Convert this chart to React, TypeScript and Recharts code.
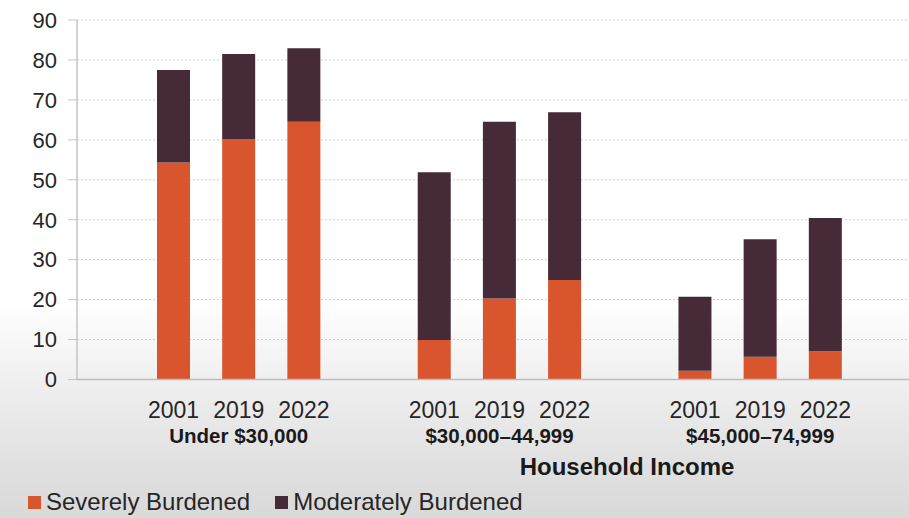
import React from 'react';
import { BarChart, Bar, XAxis, YAxis, CartesianGrid } from 'recharts';

const years = ['2001', '2019', '2022', '', '2001', '2019', '2022', '', '2001', '2019', '2022'];
const groupLabels = ['', 'Under $30,000', '', '', '', '$30,000–44,999', '', '', '', '$45,000–74,999', ''];
const severe = [54.3, 60.2, 64.5, null, 9.9, 20.3, 24.9, null, 2.2, 5.7, 7.1];
const moderate = [23.2, 21.3, 18.4, null, 42.0, 44.2, 42.0, null, 18.5, 29.4, 33.3];
const yTicks = [0, 10, 20, 30, 40, 50, 60, 70, 80, 90];

const ORANGE = '#d9552e';
const PLUM = '#462a37';
const FONT = '"Liberation Sans", Arial, sans-serif';

const data = years.map((y, i) => ({
  key: String(i),
  severe: severe[i],
  moderate: moderate[i],
}));

function YearTick(props: any) {
  const { x, y, payload } = props;
  const i = Number(payload.value);
  return (
    <g>
      <text x={x} y={y + 38.5} textAnchor="middle" fontSize={23} fill="#262626" fontFamily={FONT}>
        {years[i]}
      </text>
      {groupLabels[i] && (
        <text x={x} y={y + 63.5} textAnchor="middle" fontSize={20.5} fontWeight="bold" fill="#1a1a1a" fontFamily={FONT}>
          {groupLabels[i]}
        </text>
      )}
    </g>
  );
}

function LegendItem({ color, label }: { color: string; label: string }) {
  return (
    <span style={{ display: 'inline-flex', alignItems: 'center', marginRight: 25 }}>
      <span style={{ width: 13, height: 13, background: color, display: 'inline-block', marginRight: 5 }} />
      <span>{label}</span>
    </span>
  );
}

export default function App() {
  return (
    <div
      style={{
        position: 'absolute',
        top: 0,
        left: 0,
        width: 909,
        height: 518,
        overflow: 'hidden',
        fontFamily: FONT,
        background: 'linear-gradient(to bottom, #ffffff 0%, #ffffff 58%, #f1f1f1 72%, #e2e2e2 88%, #d9d9d9 100%)',
      }}
    >
      <BarChart
        width={909}
        height={518}
        data={data}
        margin={{ top: 20, right: 0, left: 0, bottom: 0 }}
        barCategoryGap={0}
      >
        <CartesianGrid vertical={false} stroke="#cfcfcf" strokeDasharray="2 2" />
        <XAxis
          dataKey="key"
          height={138.5}
          interval={0}
          tickLine={false}
          tickSize={0}
          tickMargin={0}
          axisLine={{ stroke: '#bdbdbd', strokeWidth: 1.5 }}
          padding={{ left: 64, right: 51 }}
          tick={<YearTick />}
        />
        <YAxis
          width={77}
          domain={[0, 90]}
          ticks={yTicks}
          interval={0}
          tickSize={9}
          tickMargin={11}
          axisLine={{ stroke: '#c4c4c4', strokeWidth: 1.5 }}
          tickLine={{ stroke: '#c4c4c4' }}
          tick={{ fontSize: 22, fill: '#262626', fontFamily: FONT }}
        />
        <Bar dataKey="severe" stackId="a" fill={ORANGE} barSize={33} isAnimationActive={false} />
        <Bar dataKey="moderate" stackId="a" fill={PLUM} barSize={33} isAnimationActive={false} />
      </BarChart>
      <div
        style={{
          position: 'absolute',
          left: 627,
          top: 453,
          transform: 'translateX(-50%)',
          fontSize: 24,
          fontWeight: 'bold',
          color: '#1a1a1a',
          whiteSpace: 'nowrap',
        }}
      >
        Household Income
      </div>
      <div
        style={{
          position: 'absolute',
          left: 28,
          top: 488,
          fontSize: 24,
          color: '#262626',
          whiteSpace: 'nowrap',
          display: 'flex',
        }}
      >
        <LegendItem color={ORANGE} label="Severely Burdened" />
        <LegendItem color={PLUM} label="Moderately Burdened" />
      </div>
    </div>
  );
}
